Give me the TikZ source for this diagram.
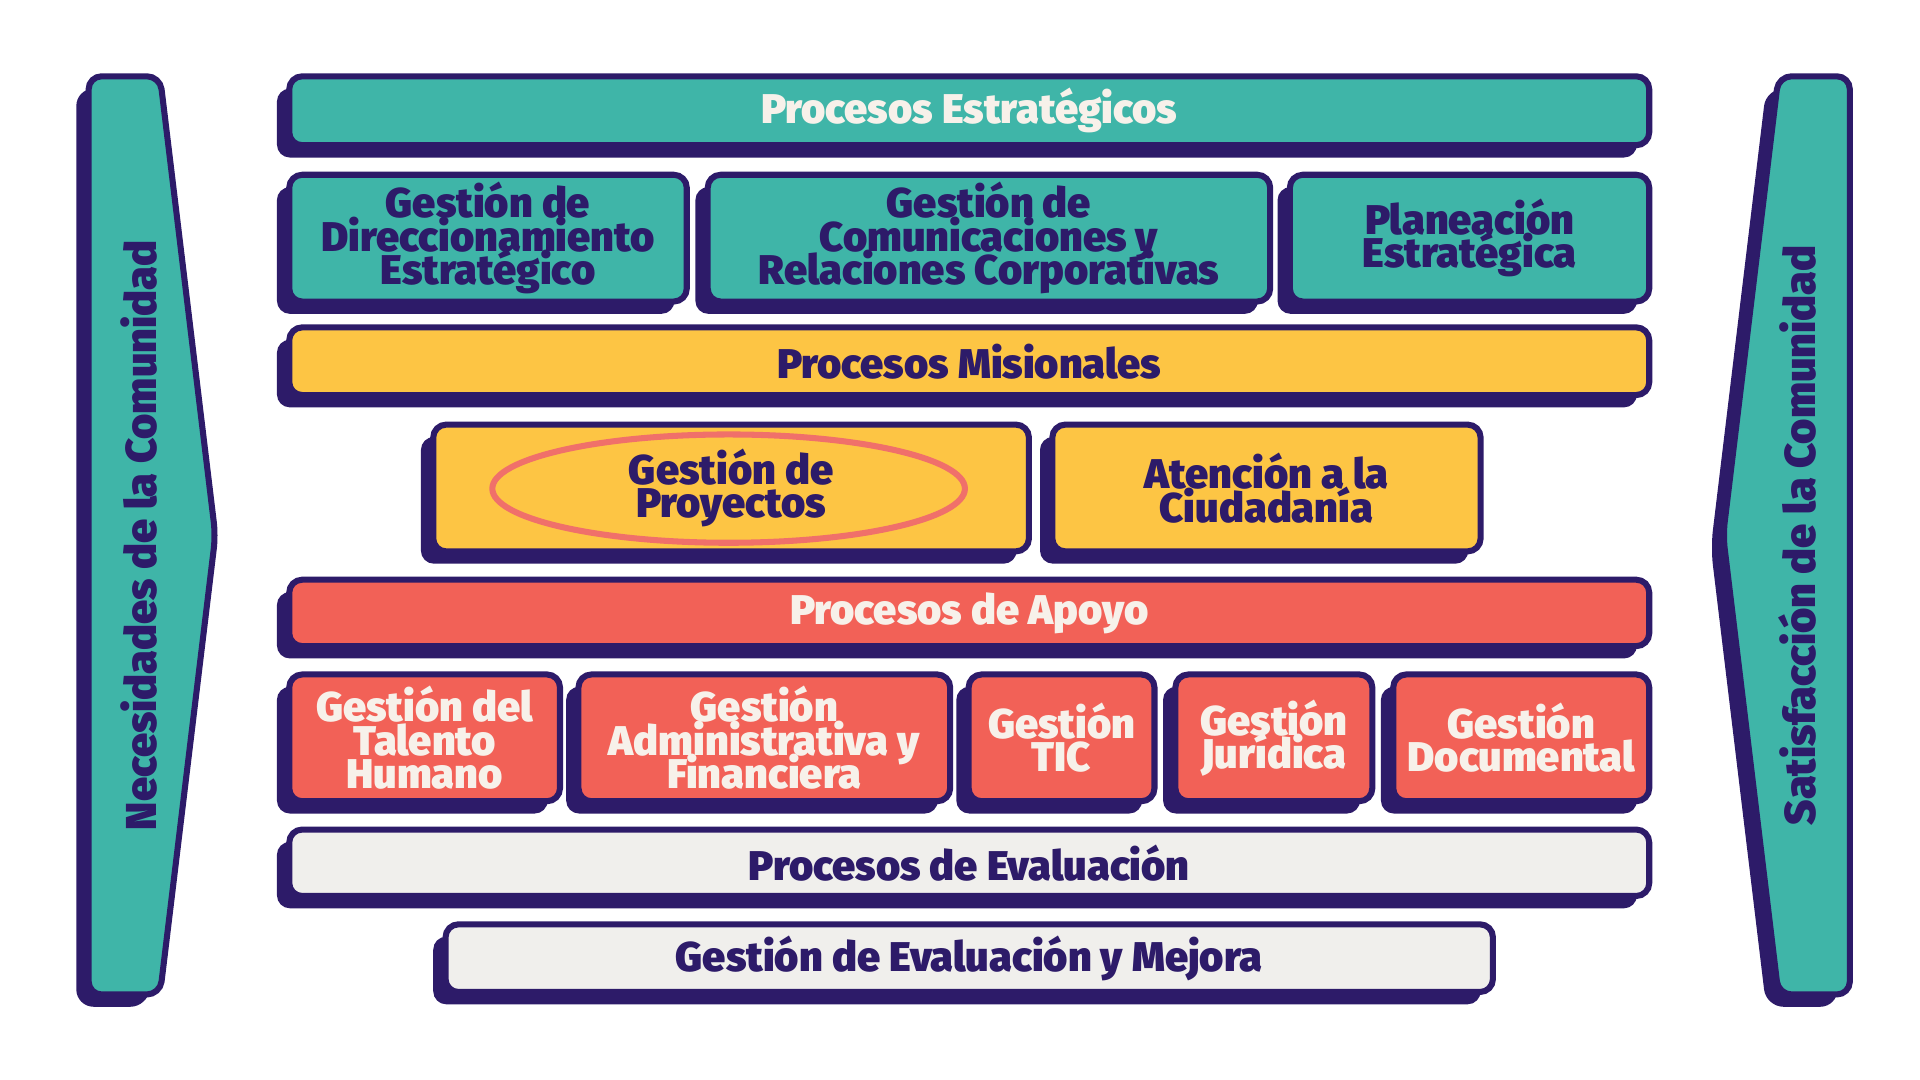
\documentclass[tikz,border=0pt]{standalone}
\usepackage{fontspec}
\setmainfont{Fira Sans}[BoldFont={Fira Sans Black}]
\definecolor{teal}{HTML}{3FB5A8}
\definecolor{navy}{HTML}{2D1B69}
\definecolor{yel}{HTML}{FDC544}
\definecolor{red}{HTML}{F26157}
\definecolor{lgr}{HTML}{F0EFEC}
\definecolor{wht}{HTML}{F7F1EA}
\definecolor{ell}{HTML}{F0706A}
\newcommand{\lblfont}{\bfseries\fontsize{9.6}{7.7}\selectfont\lineskiplimit -20pt\lineskip 0pt\relax}
\tikzset{
 box/.style={draw=navy,line width=1.4pt,rounded corners=3pt},
 shad/.style={fill=navy,rounded corners=3pt},
 lbl/.style={font=\lblfont,align=center,inner sep=0pt},
}
\newcommand{\pbox}[8]{% name, x1,y1,x2,y2, fill, textcolor, text
 \fill[shad] (#2-10,#3+10) rectangle (#4-10,#5+10);
 \draw[box,fill=#6] (#2,#3) rectangle (#4,#5);
 \node[lbl,text=#7] (#1) at ({(#2+#4)/2},{(#3+#5)/2}) {#8};
}
\begin{document}
\begin{tikzpicture}[x=0.1mm,y=-0.1mm]
\fill[white] (0,0) rectangle (1560,877);
\useasboundingbox (0,0) rectangle (1560,877);
% side arrows
\fill[navy,rounded corners=4pt] (62,72)--(120,72)--(165,445)--(120,818)--(62,818)--cycle;
\draw[box,fill=teal] (72,62)--(130,62)--(175,435)--(130,808)--(72,808)--cycle;
\node[lbl,text=navy,rotate=90,font=\bfseries\fontsize{10}{12}\selectfont] (nec) at (113,435) {Necesidades de la Comunidad};
\fill[navy,rounded corners=4pt] (1435,72)--(1493,72)--(1493,818)--(1435,818)--(1390,445)--cycle;
\draw[box,fill=teal] (1445,62)--(1503,62)--(1503,808)--(1445,808)--(1400,435)--cycle;
\node[lbl,text=navy,rotate=90,font=\bfseries\fontsize{10}{12}\selectfont] (sat) at (1460,435) {Satisfacción de la Comunidad};
% boxes
\pbox{pe}{235}{62}{1340}{118}{teal}{wht}{Procesos Estratégicos}
\pbox{gd}{235}{142}{558}{245}{teal}{navy}{Gestión de\\Direccionamiento\\Estratégico}
\pbox{gc}{575}{142}{1032}{245}{teal}{navy}{Gestión de\\Comunicaciones y\\Relaciones Corporativas}
\pbox{pl}{1048}{142}{1340}{245}{teal}{navy}{Planeación\\Estratégica}
\pbox{pm}{235}{266}{1340}{321}{yel}{navy}{Procesos Misionales}
\pbox{gp}{352}{345}{836}{448}{yel}{navy}{Gestión de\\Proyectos}
\draw[ell,line width=1.4pt] (592,397) ellipse [x radius=192,y radius=44];
\pbox{ac}{855}{345}{1203}{448}{yel}{navy}{Atención a la\\Ciudadanía}
\pbox{pa}{235}{471}{1340}{525}{red}{wht}{Procesos de Apoyo}
\pbox{gt}{235}{548}{455}{651}{red}{wht}{Gestión del\\Talento\\Humano}
\pbox{ga}{470}{548}{772}{651}{red}{wht}{Gestión\\Administrativa y\\Financiera}
\pbox{gtic}{787}{548}{938}{651}{red}{wht}{Gestión\\TIC}
\pbox{gj}{955}{548}{1115}{651}{red}{wht}{Gestión\\Jurídica}
\pbox{gdo}{1132}{548}{1340}{651}{red}{wht}{Gestión\\Documental}
\pbox{pev}{235}{674}{1340}{728}{lgr}{navy}{Procesos de Evaluación}
\pbox{gem}{362}{751}{1213}{806}{lgr}{navy}{Gestión de Evaluación y Mejora}
\end{tikzpicture}
\end{document}
